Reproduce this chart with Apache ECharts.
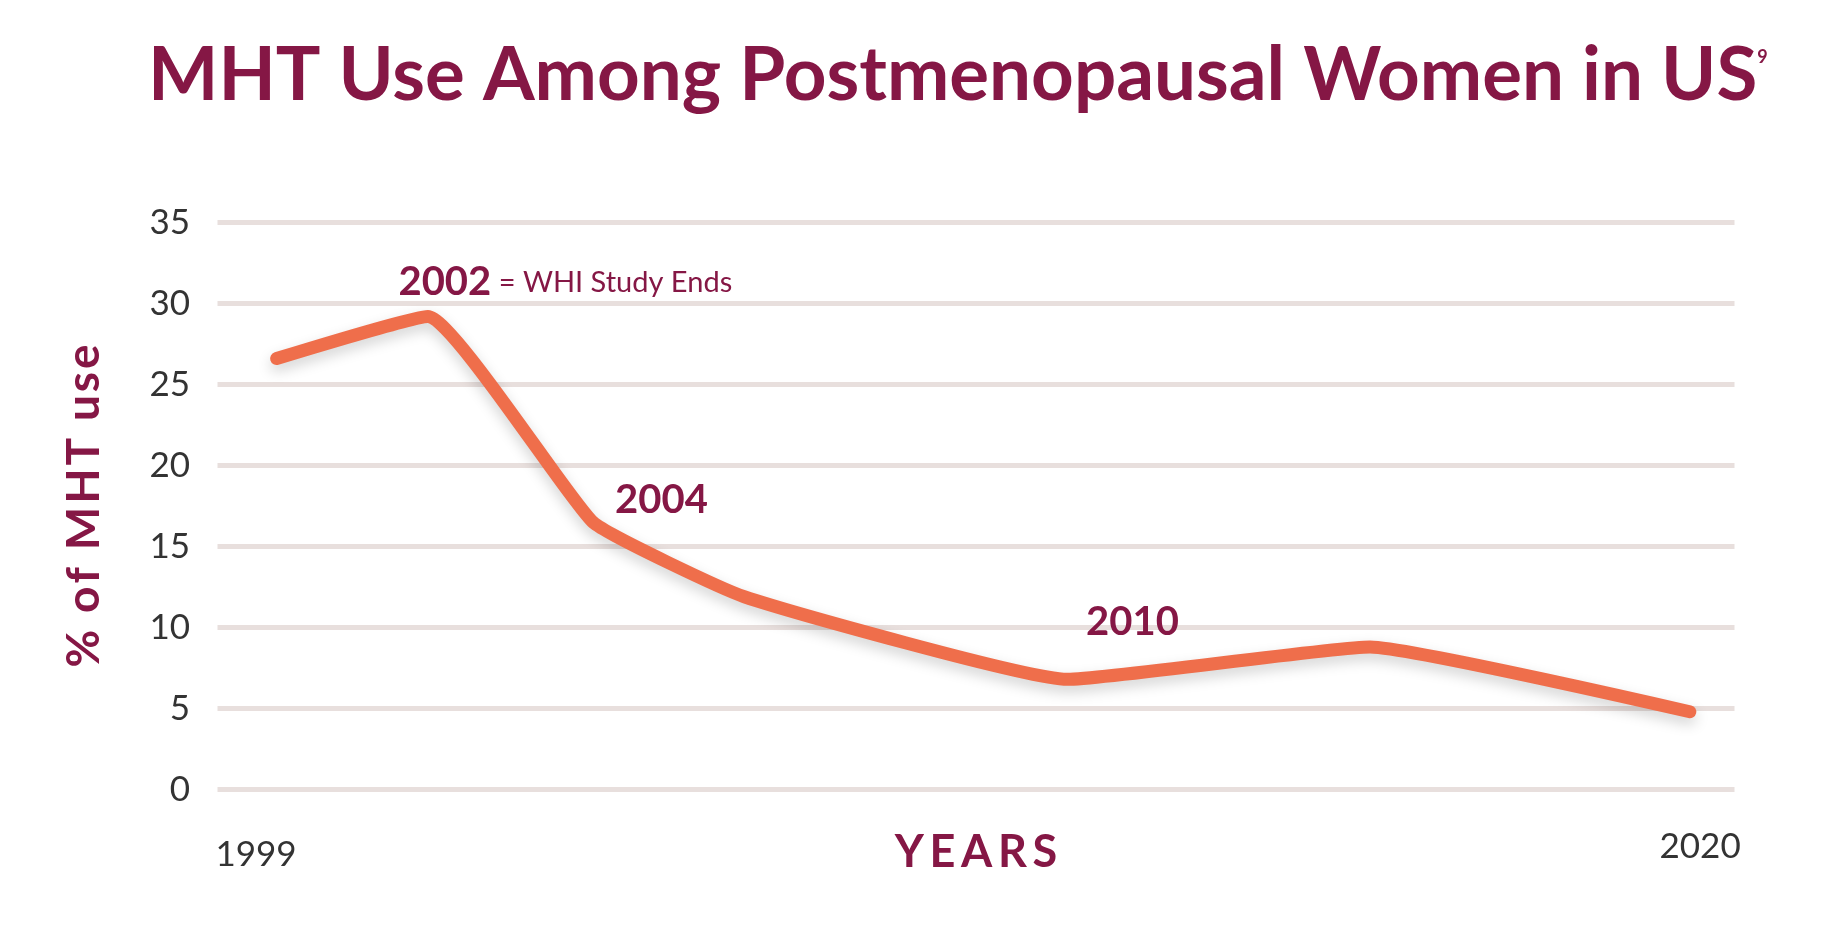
<!DOCTYPE html>
<html>
<head>
<meta charset="utf-8">
<script src="https://cdn.jsdelivr.net/npm/echarts@6/dist/echarts.min.js"></script>
<style>
html,body{margin:0;padding:0;background:#fff;}
#chart{width:1824px;height:944px;}
</style>
</head>
<body>
<div id="chart"></div>
<script>
// ---- data ----
const years = [1999.3, 2001.5, 2003.9, 2006.1, 2010.8, 2015.2, 2019.85];
const mhtUse = [26.6, 29.2, 16.5, 11.9, 6.8, 8.8, 4.8];
const xTickLabels = [1999, 2020];
const yTicks = [0, 5, 10, 15, 20, 25, 30, 35];
const annotationIdx = [1, 2, 4];
const annotationText = ['2002', '2004', '2010'];
const annotationNote = ['= WHI Study Ends', '', ''];

const MAROON = '#851745';
const ORANGE = '#EF6E4B';
const GRID = '#E8DFDD';
const FONT = 'Lato';
const spaced = (s, sp) => s.split('').join(sp);

const lineData = years.map((y, i) => [y, mhtUse[i]]);
const labelOffsets = [[-29.5, -34], [68.5, -22], [65, -57]];
const labelAligns = ['left', 'center', 'center'];
const annData = annotationIdx.map((idx, k) => ({
  value: [years[idx], mhtUse[idx]],
  label: {
    offset: labelOffsets[k],
    align: labelAligns[k],
    formatter: annotationNote[k] ? '{b|' + annotationText[k] + '}{r| ' + annotationNote[k] + '}' : '{b|' + annotationText[k] + '}'
  }
}));

const chart = echarts.init(document.getElementById('chart'), null, {renderer: 'canvas'});
chart.setOption({
  animation: false,
  backgroundColor: '#fff',
  title: {
    text: '{t|MHT Use Among Postmenopausal Women in US}{s|9}',
    left: 143,
    top: 30,
    textStyle: {
      rich: {
        t: {fontFamily: FONT, fontWeight: 'bold', fontSize: 74.5, color: MAROON, lineHeight: 82},
        s: {fontFamily: FONT, fontSize: 18, color: MAROON, verticalAlign: 'top', lineHeight: 18, padding: [13, 0, 0, 0]}
      }
    }
  },
  grid: {left: 217.5, right: 89.5, top: 222.5, bottom: 154.5, containLabel: false},
  xAxis: {
    type: 'value',
    min: 1998.44,
    max: 2020.5,
    axisLine: {show: false},
    axisTick: {show: false},
    splitLine: {show: false},
    axisLabel: {
      customValues: xTickLabels,
      margin: 40,
      formatter: v => (v === xTickLabels[0] ? '{a|' + v + '}' : '{b|' + v + '}'),
      rich: {
        a: {fontFamily: FONT, fontSize: 35, color: '#333', padding: [8, 0, 0, 0]},
        b: {fontFamily: FONT, fontSize: 35, color: '#333'}
      }
    },
    name: spaced('YEARS', '\u2009'),
    nameLocation: 'middle',
    nameGap: 40,
    nameMoveOverlap: false,
    nameTextStyle: {fontFamily: FONT, fontWeight: 'bold', fontSize: 45, color: MAROON}
  },
  yAxis: {
    type: 'value',
    min: yTicks[0],
    max: yTicks[yTicks.length - 1],
    interval: 5,
    axisLine: {show: false},
    axisTick: {show: false},
    splitLine: {show: true, lineStyle: {color: GRID, width: 5}},
    axisLabel: {fontFamily: FONT, fontSize: 35, color: '#333', margin: 27.5, padding: [0, 0, 16, 0]},
    name: spaced('% of MHT use', '\u200a'),
    nameLocation: 'middle',
    nameRotate: 90,
    nameGap: 110,
    nameTextStyle: {fontFamily: FONT, fontWeight: 'bold', fontSize: 46, color: MAROON}
  },
  series: [
    {
      type: 'line',
      data: lineData,
      smooth: 0.12,
      symbol: 'none',
      lineStyle: {
        color: ORANGE, width: 13, cap: 'round', join: 'round',
        shadowColor: 'rgba(0,0,0,0.18)', shadowBlur: 14, shadowOffsetY: 6
      },
      z: 3
    },
    {
      type: 'scatter',
      data: annData,
      symbolSize: 1,
      itemStyle: {color: 'rgba(0,0,0,0)', opacity: 1},
      silent: true,
      label: {
        show: true,
        position: 'inside',
        verticalAlign: 'middle',
        opacity: 1,
        textBorderWidth: 0,
        rich: {
          b: {fontFamily: FONT, fontWeight: 'bold', fontSize: 40, color: MAROON},
          r: {fontFamily: FONT, fontSize: 29, color: MAROON}
        }
      },
      z: 4
    }
  ]
});
</script>
</body>
</html>
